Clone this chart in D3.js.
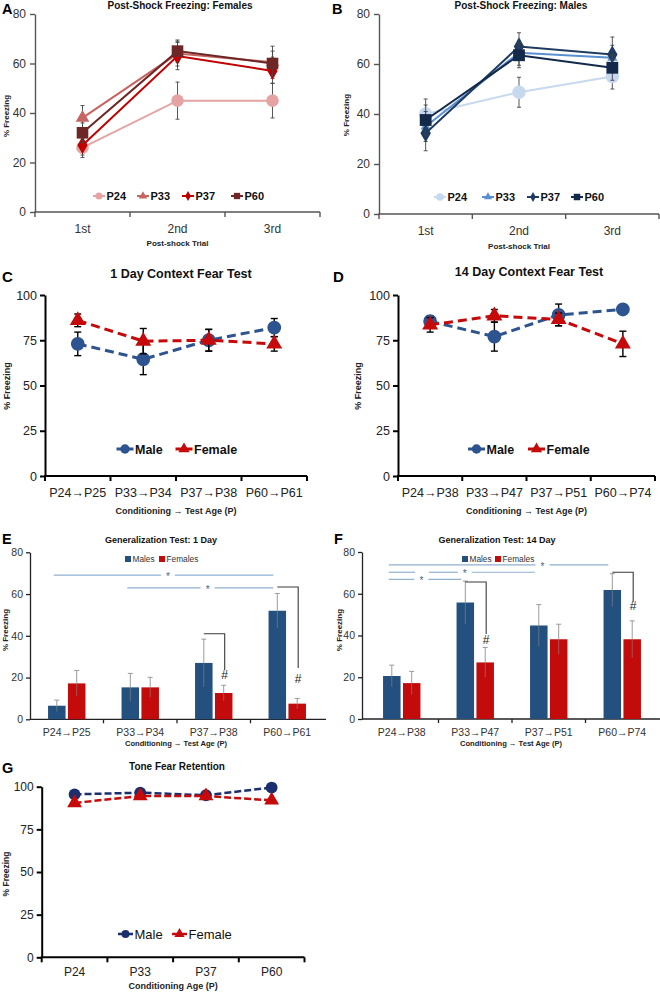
<!DOCTYPE html>
<html><head><meta charset="utf-8">
<script src="https://cdn.jsdelivr.net/npm/d3@7"></script>
<style>body{margin:0;background:#fff}svg{display:block}</style>
</head><body><svg id="c" width="660" height="993"></svg>
<script>
// ---------- DATA ----------
const trials = ["1st", "2nd", "3rd"];
const ageGroups = ["P24", "P33", "P37", "P60"];
const shockTicks = [0, 20, 40, 60, 80];
const pctTicks = [0, 25, 50, 75, 100];

// Panel A: post-shock freezing, females (mean, SEM)
const femP24 = [26, 45, 45],   femP24Err = [4, 7.5, 7];
const femP33 = [38, 64, 60.5], femP33Err = [5, 5, 6.5];
const femP37 = [27, 63, 57],   femP37Err = [4, 5.5, 5];
const femP60 = [32, 65, 60],   femP60Err = [4, 4.5, 5];

// Panel B: post-shock freezing, males
const maleP24 = [40, 48.7, 55],    maleP24Err = [6, 6, 5];
const maleP33 = [35, 64.5, 62.5],  maleP33Err = [6, 5, 5];
const maleP37 = [32.3, 67, 63.8],  maleP37Err = [7, 5.5, 7];
const maleP60 = [37.6, 63.5, 58.5],maleP60Err = [6, 5, 5];

// Panels C/D: context fear
const ctx1Cats = ["P24\u2192P25", "P33\u2192P34", "P37\u2192P38", "P60\u2192P61"];
const ctx14Cats = ["P24\u2192P38", "P33\u2192P47", "P37\u2192P51", "P60\u2192P74"];
const ctx1Male = [73, 64.5, 75, 82],     ctx1MaleErr = [6.5, 8.5, 6, 5];
const ctx1Female = [86, 74.5, 75, 73],   ctx1FemaleErr = [3.5, 7, 6, 4];
const ctx14Male = [85.5, 77, 89, 92],    ctx14MaleErr = [3, 8, 6, 0];
const ctx14Female = [83.5, 88.5, 86.5, 73], ctx14FemaleErr = [4, 3.5, 3.5, 7];

// Panels E/F: generalization
const gen1Male = [6.5, 15.3, 27, 52],      gen1MaleErr = [2.7, 6.7, 11.4, 8.3];
const gen1Female = [17.2, 15.3, 12.6, 7.5], gen1FemaleErr = [6.2, 4.8, 3.7, 2.5];
const gen14Male = [20.6, 55.8, 44.8, 61.8],  gen14MaleErr = [5.2, 10.3, 10, 7.8];
const gen14Female = [17.2, 27.1, 38.2, 38.2], gen14FemaleErr = [5.6, 7.2, 7.2, 8.8];

// Significance annotations (category indices, y value)
const sigE = [{from: 0, to: 3, v: 69.1, star: 0.52}, {from: 1, to: 3, v: 63, star: 0.55}];
const sigF = [{from: 0, to: 3, v: 73.8, star: 0.7}, {from: 0, to: 2, v: 70.3, star: 0.52, gap: [0.18, 0.275]}, {from: 0, to: 1, v: 66.9, star: 0.45}];
const bracketE = [{cat: 2, top: 41, bottom: 23.6, hash: 19.5}, {cat: 3, top: 63.4, bottom: 24.6, hash: 17.5}];
const bracketF = [{cat: 1, top: 65.6, bottom: 40.7, hash: 36}, {cat: 3, top: 70.3, bottom: 56.2, hash: 52}];

// Panel G: tone fear retention
const toneMale = [95.5, 96.5, 95, 99.5];
const toneFemale = [90.5, 94.5, 94.5, 92];

// ---------- DRAWING ----------
const FONT = '"Liberation Sans", Arial, Helvetica, sans-serif';
const svg = d3.select('#c');

function txt(g, s, x, y, o = {}) {
  const t = g.append('text').attr('x', x).attr('y', y).text(s)
    .attr('font-family', FONT).attr('font-size', o.size || 10)
    .attr('font-weight', o.bold ? 'bold' : 'normal')
    .attr('fill', o.fill || '#000')
    .attr('text-anchor', o.anchor || 'start');
  if (o.rotate) t.attr('transform', `rotate(-90,${x},${y})`);
  return t;
}

function sym(type, size) {
  return d3.symbol().type(type).size(size)();
}

function lineChart(cfg) {
  const g = svg.append('g');
  const x = d3.scaleBand().domain(cfg.cats).range([cfg.x0, cfg.x1]);
  const y = d3.scaleLinear().domain([0, cfg.yMax]).range([cfg.yBot, cfg.yTop]);

  // y axis
  const ya = g.append('g').attr('transform', `translate(${cfg.x0},0)`)
    .call(d3.axisLeft(y).tickValues(cfg.yTicks).tickSize(cfg.tickLen).tickSizeOuter(0).tickPadding(cfg.tickPad));
  ya.select('.domain').attr('stroke', cfg.axisColor).attr('stroke-width', cfg.axisW);
  ya.selectAll('.tick line').attr('stroke', cfg.axisColor).attr('stroke-width', cfg.axisW);
  ya.selectAll('.tick text').attr('font-size', cfg.tickFont).attr('fill', cfg.tickColor).attr('font-family', FONT);

  // x axis labels
  const xa = g.append('g').attr('transform', `translate(0,${cfg.yBot})`)
    .call(d3.axisBottom(x).tickSize(0));
  xa.select('.domain').remove();
  xa.selectAll('.tick text').attr('font-size', cfg.xFont).attr('fill', cfg.tickColor)
    .attr('font-family', FONT).attr('y', cfg.xLabOff).attr('dy', null);
  // x axis line + boundary ticks
  g.append('line').attr('x1', cfg.x0 - cfg.axisW / 2).attr('x2', cfg.x1)
    .attr('y1', cfg.yBot).attr('y2', cfg.yBot).attr('stroke', cfg.axisColor).attr('stroke-width', cfg.axisW);
  const bounds = cfg.cats.map(c => x(c)).concat([cfg.x1]);
  g.selectAll(null).data(bounds).join('line')
    .attr('x1', d => d).attr('x2', d => d).attr('y1', cfg.yBot).attr('y2', cfg.yBot + cfg.tickLen)
    .attr('stroke', cfg.axisColor).attr('stroke-width', cfg.axisW);

  // series
  cfg.series.forEach(s => {
    const pts = cfg.cats.map((c, i) => ({ x: x(c) + x.bandwidth() / 2, v: s.values[i], e: s.errs ? s.errs[i] : 0 }));
    // error bars
    const eb = g.append('g').attr('stroke', cfg.errColor).attr('stroke-width', cfg.errW);
    pts.filter(d => d.e > 0).forEach(d => {
      eb.append('line').attr('x1', d.x).attr('x2', d.x).attr('y1', y(d.v - d.e)).attr('y2', y(d.v + d.e));
      [d.v - d.e, d.v + d.e].forEach(v => eb.append('line').attr('x1', d.x - cfg.capW / 2).attr('x2', d.x + cfg.capW / 2)
        .attr('y1', y(v)).attr('y2', y(v)));
    });
    g.append('path').datum(pts)
      .attr('d', d3.line().x(d => d.x).y(d => y(d.v)))
      .attr('fill', 'none').attr('stroke', s.color).attr('stroke-width', cfg.lineW)
      .attr('stroke-dasharray', cfg.dash || null);
    g.selectAll(null).data(pts).join('path')
      .attr('transform', d => `translate(${d.x},${y(d.v)})`)
      .attr('d', sym(s.symbol, s.size)).attr('fill', s.color);
  });

  // titles
  txt(g, cfg.letter, cfg.letterX, cfg.letterY, { size: cfg.letterSize, bold: true });
  txt(g, cfg.title, cfg.titleX, cfg.titleY, { size: cfg.titleSize, bold: true, anchor: 'middle', fill: '#111' });
  txt(g, cfg.xTitle, (cfg.x0 + cfg.x1) / 2, cfg.yBot + cfg.xTitleOff, { size: cfg.xTitleSize, bold: true, anchor: 'middle', fill: '#222' });
  txt(g, '% Freezing', cfg.yTitleX, cfg.yTitleY, { size: cfg.yTitleSize, bold: true, anchor: 'middle', rotate: true, fill: '#222' });

  // legend
  const lg = g.append('g');
  cfg.series.forEach((s, i) => {
    const mx = cfg.legendX[i];
    lg.append('line').attr('x1', mx - cfg.legendHalf).attr('x2', mx + cfg.legendHalf)
      .attr('y1', cfg.legendY).attr('y2', cfg.legendY).attr('stroke', s.color).attr('stroke-width', cfg.legendLineW);
    lg.append('path').attr('transform', `translate(${mx},${cfg.legendY})`).attr('d', sym(s.symbol, s.legendSize)).attr('fill', s.color);
    txt(lg, s.name, mx + cfg.legendHalf + 1.5, cfg.legendY + cfg.legendSize * 0.36, { size: cfg.legendSize, bold: cfg.legendBold, fill: '#111' });
  });
}

function barChart(cfg) {
  const g = svg.append('g');
  const x = d3.scaleBand().domain(cfg.cats).range([cfg.bx0, cfg.bx1]);
  const xs = d3.scaleBand().domain(['Males', 'Females']).range([-18.7, 18.7]).paddingInner(0.12);
  const y = d3.scaleLinear().domain([0, 80]).range([cfg.yBot, cfg.yTop]);
  const colors = { Males: '#23507f', Females: '#c30b0b' };

  const ya = g.append('g').attr('transform', `translate(${cfg.axisX},0)`)
    .call(d3.axisLeft(y).tickValues(shockTicks).tickSize(4).tickSizeOuter(0).tickPadding(3));
  ya.select('.domain').attr('stroke', '#222').attr('stroke-width', 1.3);
  ya.selectAll('.tick line').attr('stroke', '#222').attr('stroke-width', 1.3);
  ya.selectAll('.tick text').attr('font-size', 10.5).attr('fill', '#333').attr('font-family', FONT);

  const xa = g.append('g').attr('transform', `translate(0,${cfg.yBot})`).call(d3.axisBottom(x).tickSize(0));
  xa.select('.domain').remove();
  xa.selectAll('.tick text').attr('font-size', 10.5).attr('fill', '#333').attr('font-family', FONT).attr('y', 16.5).attr('dy', null);
  g.append('line').attr('x1', cfg.axisX).attr('x2', cfg.bx1 + 2).attr('y1', cfg.yBot).attr('y2', cfg.yBot)
    .attr('stroke', '#222').attr('stroke-width', 1.3);
  g.selectAll(null).data(cfg.cats.slice(1).map(c => x(c))).join('line')
    .attr('x1', d => d).attr('x2', d => d).attr('y1', cfg.yBot).attr('y2', cfg.yBot + 4)
    .attr('stroke', '#222').attr('stroke-width', 1.3);

  const sets = [
    { key: 'Males', v: cfg.male, e: cfg.maleErr },
    { key: 'Females', v: cfg.female, e: cfg.femaleErr }
  ];
  sets.forEach(s => {
    const data = cfg.cats.map((c, i) => ({ cx: x(c) + x.bandwidth() / 2 + xs(s.key) + xs.bandwidth() / 2, v: s.v[i], e: s.e[i] }));
    g.selectAll(null).data(data).join('rect')
      .attr('x', d => d.cx - xs.bandwidth() / 2).attr('width', xs.bandwidth())
      .attr('y', d => y(d.v)).attr('height', d => y(0) - y(d.v)).attr('fill', colors[s.key]);
    const eb = g.append('g').attr('stroke-width', 1);
    data.forEach(d => {
      eb.append('line').attr('x1', d.cx).attr('x2', d.cx).attr('y1', y(d.v)).attr('y2', y(d.v + d.e)).attr('stroke', '#9a9a9a');
      eb.append('line').attr('x1', d.cx).attr('x2', d.cx).attr('y1', y(d.v)).attr('y2', y(d.v - d.e)).attr('stroke', '#8a8a8a').attr('stroke-opacity', 0.6);
      eb.append('line').attr('x1', d.cx - 2.5).attr('x2', d.cx + 2.5).attr('y1', y(d.v + d.e)).attr('y2', y(d.v + d.e)).attr('stroke', '#9a9a9a');
    });
  });

  // significance lines
  const maleX = i => x(cfg.cats[i]) + x.bandwidth() / 2 + xs('Males') + xs.bandwidth() / 2;
  const femX = i => x(cfg.cats[i]) + x.bandwidth() / 2 + xs('Females') + xs.bandwidth() / 2;
  cfg.sig.forEach(s => {
    const a = maleX(s.from) - 3, b = maleX(s.to) - 4;
    const yy = y(s.v);
    const sx = a + (b - a) * s.star;
    let segs = [[a, sx - 7], [sx + 7, b]];
    if (s.gap) {
      const g0 = a + (b - a) * s.gap[0], g1 = a + (b - a) * s.gap[1];
      segs = [[a, g0], [g1, sx - 7], [sx + 7, b]];
    }
    segs.forEach(p => g.append('line').attr('x1', p[0]).attr('x2', p[1]).attr('y1', yy).attr('y2', yy)
      .attr('stroke', '#8fb0cf').attr('stroke-width', 1.2));
    txt(g, '*', sx, yy + 5, { size: 10, anchor: 'middle', fill: '#3f6690' });
  });
  cfg.brackets.forEach(b => {
    const a = maleX(b.cat), c = femX(b.cat) + 1;
    g.append('path').attr('d', `M${a},${y(b.top)}H${c}V${y(b.bottom)}`)
      .attr('fill', 'none').attr('stroke', '#3a3a3a').attr('stroke-width', 1.1);
    txt(g, '#', c, y(b.hash), { size: 12, anchor: 'middle', fill: '#222' });
  });

  // legend
  [['Males', cfg.legX[0]], ['Females', cfg.legX[1]]].forEach(([k, lx]) => {
    g.append('rect').attr('x', lx - 3).attr('y', cfg.legY - 3).attr('width', 6).attr('height', 6).attr('fill', colors[k]);
    txt(g, k, lx + 4.5, cfg.legY + 3, { size: 8.3, fill: '#333' });
  });

  txt(g, cfg.letter, cfg.letterX, 544, { size: 14.5, bold: true });
  txt(g, cfg.title, cfg.titleX, 542.5, { size: 9, bold: true, anchor: 'middle', fill: '#111' });
  txt(g, 'Conditioning \u2192 Test Age (P)', cfg.xTitleX, 746, { size: 7.6, bold: true, anchor: 'middle', fill: '#222' });
  txt(g, '% Freezing', cfg.yTitleX, 630, { size: 8, bold: true, anchor: 'middle', rotate: true, fill: '#222' });
}

// ----- Panel A -----
const shockBase = {
  cats: trials, yMax: 80, yTicks: shockTicks, tickLen: 5, tickPad: 4,
  axisColor: '#555', axisW: 1.4, tickFont: 12, xFont: 12, tickColor: '#333', xLabOff: 20.5,
  errColor: '#444', errW: 0.9, capW: 4, lineW: 2,
  letterSize: 14.5, titleSize: 10, xTitle: 'Post-shock Trial', xTitleSize: 8, xTitleOff: 34,
  yTitleSize: 8, legendHalf: 6, legendLineW: 2, legendSize: 11, legendBold: true
};
lineChart(Object.assign({}, shockBase, {
  x0: 35, x1: 320, yTop: 14, yBot: 212,
  series: [
    { name: 'P24', values: femP24, errs: femP24Err, color: '#e6a3a3', symbol: d3.symbolCircle, size: 125, legendSize: 40 },
    { name: 'P33', values: femP33, errs: femP33Err, color: '#c86462', symbol: d3.symbolTriangle, size: 80, legendSize: 30 },
    { name: 'P37', values: femP37, errs: femP37Err, color: '#c00000', symbol: d3.symbolDiamond, size: 90, legendSize: 28 },
    { name: 'P60', values: femP60, errs: femP60Err, color: '#6e2727', symbol: d3.symbolSquare, size: 135, legendSize: 40 }
  ],
  letter: 'A', letterX: 2, letterY: 14, title: 'Post-Shock Freezing: Females', titleX: 180, titleY: 9,
  yTitleX: 9, yTitleY: 116, legendX: [99, 143, 188, 237], legendY: 196
}));

// ----- Panel B -----
lineChart(Object.assign({}, shockBase, {
  x0: 379, x1: 659, yTop: 14, yBot: 214, xTitleOff: 35,
  series: [
    { name: 'P24', values: maleP24, errs: maleP24Err, color: '#c6d9ef', symbol: d3.symbolCircle, size: 140, legendSize: 45 },
    { name: 'P33', values: maleP33, errs: maleP33Err, color: '#5a8fd2', symbol: d3.symbolTriangle, size: 45, legendSize: 28 },
    { name: 'P37', values: maleP37, errs: maleP37Err, color: '#1f3b60', symbol: d3.symbolDiamond, size: 95, legendSize: 28 },
    { name: 'P60', values: maleP60, errs: maleP60Err, color: '#13294a', symbol: d3.symbolSquare, size: 140, legendSize: 42 }
  ],
  letter: 'B', letterX: 332, letterY: 14, title: 'Post-Shock Freezing: Males', titleX: 521, titleY: 9,
  yTitleX: 349, yTitleY: 115, legendX: [440, 488, 533, 577], legendY: 197
}));

// ----- Panels C, D -----
const ctxBase = {
  yMax: 100, yTicks: pctTicks, tickLen: 5, tickPad: 3,
  axisColor: '#000', axisW: 2, tickFont: 12.5, xFont: 12.5, tickColor: '#222', xLabOff: 21,
  errColor: '#000', errW: 1.4, capW: 7, lineW: 3, dash: '9,5',
  letterSize: 15, titleSize: 12.5, xTitle: 'Conditioning \u2192 Test Age (P)', xTitleSize: 9, xTitleOff: 38,
  yTitleSize: 9, legendHalf: 8.5, legendLineW: 3, legendSize: 12.5, legendBold: true, yTop: 295, yBot: 476, legendY: 449
};
lineChart(Object.assign({}, ctxBase, {
  cats: ctx1Cats, x0: 45, x1: 307,
  series: [
    { name: 'Male', values: ctx1Male, errs: ctx1MaleErr, color: '#2d548e', symbol: d3.symbolCircle, size: 150, legendSize: 70 },
    { name: 'Female', values: ctx1Female, errs: ctx1FemaleErr, color: '#c40a0a', symbol: d3.symbolTriangle, size: 110, legendSize: 55 }
  ],
  letter: 'C', letterX: 2, letterY: 282, title: '1 Day Context Fear Test', titleX: 181, titleY: 278,
  yTitleX: 10, yTitleY: 386, legendX: [125, 184]
}));
lineChart(Object.assign({}, ctxBase, {
  cats: ctx14Cats, x0: 398, x1: 655,
  series: [
    { name: 'Male', values: ctx14Male, errs: ctx14MaleErr, color: '#2d548e', symbol: d3.symbolCircle, size: 150, legendSize: 70 },
    { name: 'Female', values: ctx14Female, errs: ctx14FemaleErr, color: '#c40a0a', symbol: d3.symbolTriangle, size: 110, legendSize: 55 }
  ],
  letter: 'D', letterX: 333, letterY: 282, title: '14 Day Context Fear Test', titleX: 529, titleY: 276,
  yTitleX: 361, yTitleY: 386, legendX: [476.5, 536.5]
}));

// ----- Panels E, F -----
barChart({
  cats: ctx1Cats, bx0: 30, bx1: 324, axisX: 30, yTop: 552.3, yBot: 719.3,
  male: gen1Male, maleErr: gen1MaleErr, female: gen1Female, femaleErr: gen1FemaleErr,
  sig: sigE, brackets: bracketE, legX: [128, 162], legY: 559,
  letter: 'E', letterX: 2, title: 'Generalization Test: 1 Day', titleX: 161, xTitleX: 176, yTitleX: 8
});
barChart({
  cats: ctx14Cats, bx0: 365, bx1: 659, axisX: 362, yTop: 552, yBot: 719,
  male: gen14Male, maleErr: gen14MaleErr, female: gen14Female, femaleErr: gen14FemaleErr,
  sig: sigF, brackets: bracketF, legX: [465, 498], legY: 559,
  letter: 'F', letterX: 334, title: 'Generalization Test: 14 Day', titleX: 497, xTitleX: 511, yTitleX: 342
});

// ----- Panel G -----
lineChart({
  cats: ageGroups, x0: 41.7, x1: 304.5, yTop: 786.7, yBot: 957.3,
  yMax: 100, yTicks: pctTicks, tickLen: 5, tickPad: 3,
  axisColor: '#000', axisW: 2, tickFont: 12, xFont: 12, tickColor: '#222', xLabOff: 18.5,
  errColor: '#000', errW: 1, capW: 5, lineW: 2.5, dash: '7,3',
  series: [
    { name: 'Male', values: toneMale, color: '#1b2f6e', symbol: d3.symbolCircle, size: 110, legendSize: 50 },
    { name: 'Female', values: toneFemale, color: '#c40a0a', symbol: d3.symbolTriangle, size: 95, legendSize: 45 }
  ],
  letter: 'G', letterX: 2, letterY: 773, letterSize: 14.5, title: 'Tone Fear Retention', titleX: 177, titleY: 770, titleSize: 10,
  xTitle: 'Conditioning Age (P)', xTitleSize: 9, xTitleOff: 31.5, yTitleX: 9, yTitleY: 874, yTitleSize: 8.5,
  legendX: [125.5, 179.5], legendY: 934, legendHalf: 7.5, legendLineW: 2.5, legendSize: 13, legendBold: false
});
</script>
</body></html>
